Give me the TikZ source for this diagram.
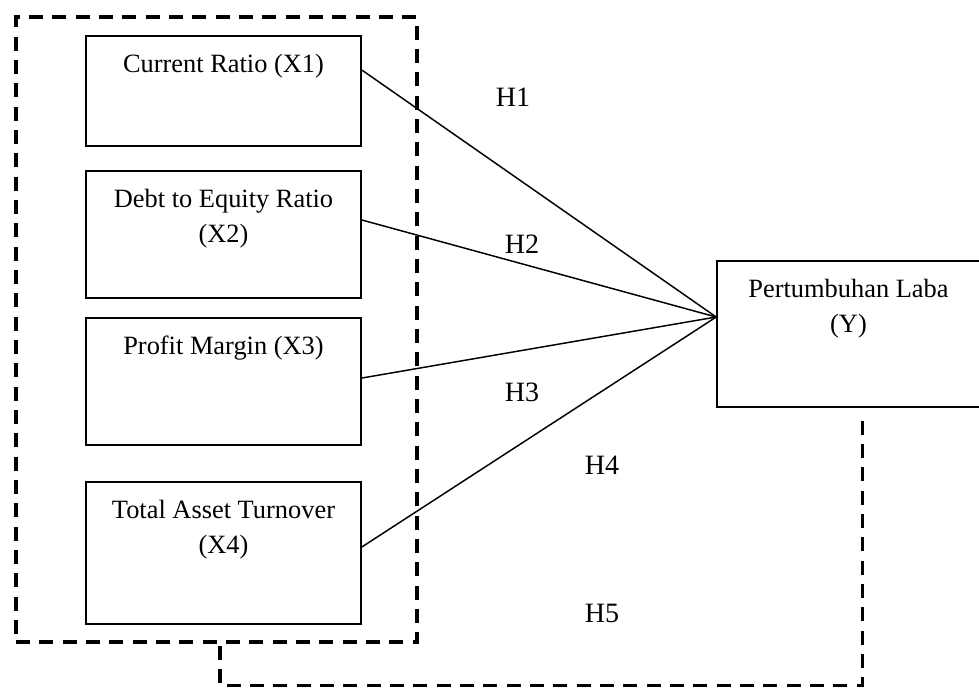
\documentclass[tikz,border=0pt]{standalone}
\usepackage{fontspec}
\setmainfont{Liberation Serif}
\usetikzlibrary{calc}

% text sits at the top of each box
\newcommand{\boxlabel}[3]{\parbox[c][#2][t]{#1}{\centering\rule{0pt}{27pt}#3}}

\tikzset{
  varbox/.style={draw, line width=1.2pt, inner sep=0pt},
  frame/.style={draw, line width=2.5pt, dash pattern=on 10.5pt off 7pt, inner sep=0pt},
  link/.style={line width=1.1pt},
  feedback/.style={line width=2.5pt, dash pattern=on 10.5pt off 7pt}
}

\begin{document}
\begin{tikzpicture}[x=0.75pt, y=-0.75pt, font=\fontsize{19.8pt}{26.25pt}\selectfont]
  \useasboundingbox (0, 0) rectangle (979, 687);
  % dashed group round the independent variables
  \node [frame, minimum width=300.75pt, minimum height=468.75pt] (frame) at (216.5, 329.5) {};
  % variable boxes
  \node [varbox] (x1) at (223.5, 91) {\boxlabel{206.25pt}{82.5pt}{Current Ratio (X1)}};
  \node [varbox] (x2) at (223.5, 234.5) {\boxlabel{206.25pt}{95.25pt}{Debt to Equity Ratio\\(X2)}};
  \node [varbox] (x3) at (223.5, 381.5) {\boxlabel{206.25pt}{95.25pt}{Profit Margin (X3)}};
  \node [varbox] (x4) at (223.5, 553) {\boxlabel{206.25pt}{106.5pt}{Total Asset Turnover\\(X4)}};
  \node [varbox] (y) at (848.5, 334) {\boxlabel{197.25pt}{109.5pt}{Pertumbuhan Laba\\(Y)}};
  % connectors
  \coordinate (hub) at ([yshift=12.75pt]y.west);
  \draw [link] ([yshift=15.75pt]x1.east) -- (hub);
  \draw [link] ([yshift=10.9pt]x2.east) -- (hub);
  \draw [link] ([yshift=2.6pt]x3.east) -- (hub);
  \draw [link] ([yshift=4.5pt]x4.east) -- (hub);
  \draw [feedback] ([xshift=10.5pt, yshift=-9.75pt]y.south) |- ([xshift=2.6pt, yshift=-31.5pt]frame.south) -- ([xshift=2.6pt]frame.south);
  % hypothesis labels
  \node [font=\fontsize{21pt}{26pt}\selectfont] (h1) at (513, 97) {H1};
  \node [font=\fontsize{21pt}{26pt}\selectfont] (h2) at (522, 244) {H2};
  \node [font=\fontsize{21pt}{26pt}\selectfont] (h3) at (522, 392) {H3};
  \node [font=\fontsize{21pt}{26pt}\selectfont] (h4) at (602, 465) {H4};
  \node [font=\fontsize{21pt}{26pt}\selectfont] (h5) at (602, 613) {H5};
\end{tikzpicture}
\end{document}
